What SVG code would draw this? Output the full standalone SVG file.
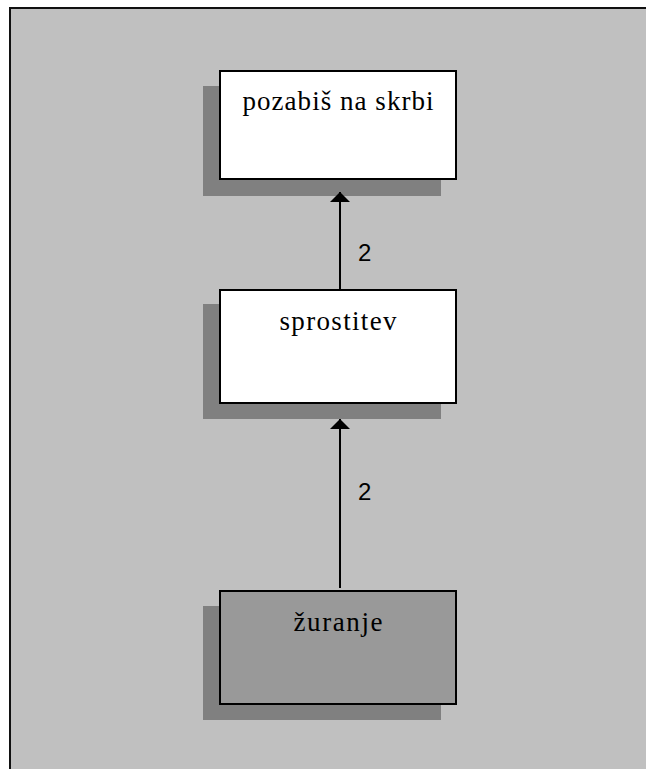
<svg xmlns="http://www.w3.org/2000/svg" width="646" height="769" viewBox="0 0 646 769">
<defs>
<style>
.shadow{fill:#808080;stroke:none}
.box{fill:#ffffff;stroke:#000000;stroke-width:2}
.box.dark{fill:#999999}
.lbl{font-family:"Liberation Serif","Times New Roman",serif;font-size:27px;fill:#000;text-anchor:middle}
.elbl{font-family:"Liberation Sans",Arial,sans-serif;font-size:24px;fill:#000}
.edge{stroke:#000;stroke-width:2;fill:none}
</style>
<marker id="arr" viewBox="0 0 10 20" refX="10" refY="10" markerWidth="10" markerHeight="20" markerUnits="userSpaceOnUse" orient="auto">
<path d="M0,0 L10,10 L0,20 Z" fill="#000"/>
</marker>
</defs>
<rect x="0" y="0" width="646" height="769" fill="#ffffff"/>
<rect x="10" y="8" width="700" height="800" fill="#c0c0c0" stroke="#111" stroke-width="2"/>
<g id="node-pozabis">
<rect class="shadow" x="203" y="86" width="238" height="110"/>
<rect class="box" x="220" y="71" width="236" height="108"/>
<text class="lbl" x="338" y="110" textLength="191" lengthAdjust="spacing">pozabiš na skrbi</text>
</g>
<g id="node-sprostitev">
<rect class="shadow" x="203" y="304" width="238" height="115"/>
<rect class="box" x="220" y="290" width="236" height="113"/>
<text class="lbl" x="338" y="330" textLength="117" lengthAdjust="spacing">sprostitev</text>
</g>
<g id="node-zuranje">
<rect class="shadow" x="203" y="606" width="238" height="114"/>
<rect class="box dark" x="220" y="591" width="236" height="113"/>
<text class="lbl" x="338" y="631" textLength="89" lengthAdjust="spacing">žuranje</text>
</g>
<g id="connectors">
<line class="edge" x1="340" y1="289" x2="340" y2="192" marker-end="url(#arr)"/>
<text class="elbl" x="358" y="261">2</text>
<line class="edge" x1="340" y1="588" x2="340" y2="419" marker-end="url(#arr)"/>
<text class="elbl" x="358" y="500">2</text>
</g>
</svg>
